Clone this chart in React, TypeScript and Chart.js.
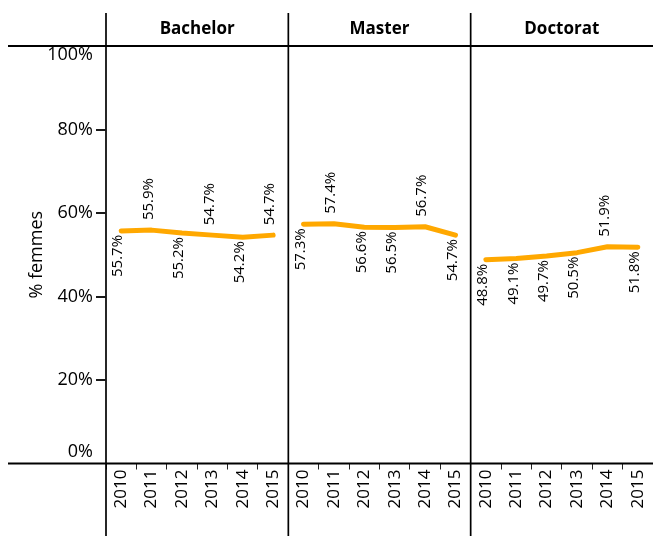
import React, { useEffect, useRef } from "react";
import { Chart, registerables } from "chart.js";

Chart.register(...registerables);

const years = ["2010", "2011", "2012", "2013", "2014", "2015"];
const panels = ["Bachelor", "Master", "Doctorat"];
const bachelor = [55.7, 55.9, 55.2, 54.7, 54.2, 54.7];
const master = [57.3, 57.4, 56.6, 56.5, 56.7, 54.7];
const doctorat = [48.8, 49.1, 49.7, 50.5, 51.9, 51.8];
const yTicks = [0, 20, 40, 60, 80, 100];
const series = [bachelor, master, doctorat];
const labelSide = [
  ["below", "above", "below", "above", "below", "above"],
  ["below", "above", "below", "below", "above", "below"],
  ["below", "below", "below", "below", "above", "below"],
];

const FONT = "'Open Sans', 'Noto Sans', sans-serif";
const ORANGE = "#FFA800";

export default function App() {
  const ref = useRef<HTMLCanvasElement | null>(null);

  useEffect(() => {
    document.body.style.margin = "0";
    const canvas = ref.current;
    if (!canvas) return;
    const n = years.length;
    const labels: string[] = [];
    panels.forEach(() => years.forEach((y) => labels.push(y)));
    const datasets = series.map((vals, p) => {
      const data: (number | null)[] = labels.map(() => null);
      vals.forEach((v, i) => (data[p * n + i] = v));
      return {
        label: panels[p],
        data,
        borderColor: ORANGE,
        backgroundColor: ORANGE,
        borderWidth: 5,
        borderCapStyle: "round" as const,
        borderJoinStyle: "round" as const,
        pointRadius: 0,
        tension: 0,
        spanGaps: false,
      };
    });

    const overlay = {
      id: "overlay",
      afterDraw(chart: any) {
        const ctx = chart.ctx as CanvasRenderingContext2D;
        const x = chart.scales.x;
        const y = chart.scales.y;
        const ca = chart.chartArea;
        ctx.save();
        // panel dividers
        ctx.strokeStyle = "#000";
        ctx.lineWidth = 1.7;
        const catW = (ca.right - ca.left) / labels.length;
        for (let p = 0; p < panels.length; p++) {
          const xx = ca.left + p * n * catW;
          ctx.beginPath();
          ctx.moveTo(xx, 13);
          ctx.lineTo(xx, chart.height);
          ctx.stroke();
        }
        // horizontal lines at 0 and 100
        ctx.lineWidth = 2;
        [0, 100].forEach((v) => {
          const yy = y.getPixelForValue(v);
          ctx.beginPath();
          ctx.moveTo(8, yy);
          ctx.lineTo(chart.width, yy);
          ctx.stroke();
        });
        // strip labels
        ctx.fillStyle = "#000";
        ctx.font = `bold 17px ${FONT}`;
        ctx.textAlign = "center";
        ctx.textBaseline = "middle";
        panels.forEach((name, p) => {
          const cx = ca.left + (p * n + n / 2) * catW;
          ctx.fillText(name, cx, 29);
        });
        // y tick labels with tick marks
        ctx.font = `18px ${FONT}`;
        ctx.textAlign = "right";
        yTicks.forEach((v) => {
          const py = y.getPixelForValue(v);
          let yy = py;
          if (v === 0) yy -= 12;
          if (v === 100) yy += 9;
          ctx.fillStyle = "#000";
          ctx.fillText(v + "%", 93, yy);
          if (v !== 0 && v !== 100) {
            ctx.fillStyle = "#1a1a1a";
            ctx.fillRect(96, Math.round(py) - 1, ca.left - 96, 2);
          }
        });
        // y title
        ctx.fillStyle = "#000";
        ctx.save();
        ctx.translate(37, (ca.top + ca.bottom) / 2);
        ctx.rotate(-Math.PI / 2);
        ctx.textAlign = "center";
        ctx.fillText("% femmes", 0, 0);
        ctx.restore();
        // data labels
        ctx.font = `15px ${FONT}`;
        series.forEach((vals, p) => {
          vals.forEach((v, i) => {
            const px = x.getPixelForValue(p * n + i);
            const py = y.getPixelForValue(v);
            ctx.save();
            ctx.translate(px, py);
            ctx.rotate(-Math.PI / 2);
            ctx.textBaseline = "middle";
            const txt = v.toFixed(1) + "%";
            if (labelSide[p][i] === "above") {
              ctx.textAlign = "left";
              ctx.fillText(txt, 10, -3);
            } else {
              ctx.textAlign = "right";
              ctx.fillText(txt, -4, -3);
            }
            ctx.restore();
          });
        });
        ctx.restore();
      },
    };

    const chart = new Chart(canvas, {
      type: "line",
      data: { labels, datasets },
      options: {
        responsive: false,
        animation: false,
        layout: { padding: { top: 46, left: 0, right: 0, bottom: 0 } },
        plugins: {
          legend: { display: false },
          tooltip: { enabled: false },
          title: { display: false },
        },
        scales: {
          x: {
            type: "category",
            offset: true,
            border: { display: false },
            grid: {
              offset: true,
              drawOnChartArea: false,
              drawTicks: true,
              tickLength: 6,
              color: "#222",
              lineWidth: 1,
            },
            ticks: {
              autoSkip: false,
              maxRotation: 90,
              minRotation: 90,
              padding: 0,
              color: "#000",
              font: { family: FONT, size: 17 },
            },
            afterFit: (s: any) => {
              s.height = 72.5;
              s.paddingLeft = 0;
              s.paddingRight = 0;
            },
          },
          y: {
            min: 0,
            max: 100,
            border: { display: false },
            grid: {
              drawOnChartArea: false,
              drawTicks: false,
            },
            ticks: {
              stepSize: 20,
              display: false,
            },
            afterFit: (s: any) => {
              s.width = 106;
              s.paddingTop = 0;
              s.paddingBottom = 0;
            },
          },
        },
      },
      plugins: [overlay],
    });
    return () => chart.destroy();
  }, []);

  return (
    <div style={{ width: 653, height: 536 }}>
      <canvas ref={ref} width={653} height={536} style={{ display: "block" }} />
    </div>
  );
}
